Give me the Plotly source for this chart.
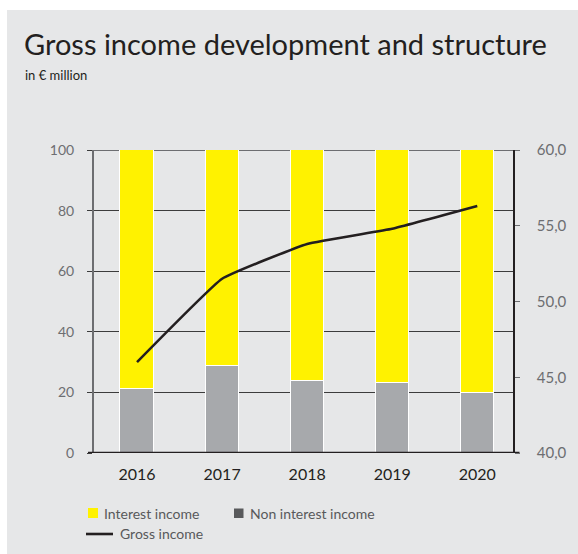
import plotly.graph_objects as go

# Data
years = ["2016", "2017", "2018", "2019", "2020"]
non_interest_share = [21.0, 28.8, 23.9, 23.0, 19.8]          # % of gross income
interest_share = [100 - v for v in non_interest_share]        # % of gross income
gross_income = [46.0, 51.5, 53.8, 54.8, 56.3]                 # € million
left_ticks = [0, 20, 40, 60, 80, 100]
right_ticks = [40, 45, 50, 55, 60]

YELLOW = "#fff200"
GREY_BAR = "#a7a9ac"
GREY_KEY = "#58595b"
BG = "#e6e7e8"
INK = "#231f20"
FONT = "Lato"

W, H = 578, 554
L, R, T, B = 94, 513, 150, 453  # plot area in pixels


def px(x):
    return (x - L) / (R - L)


def py(y):
    return (B - y) / (B - T)


fig = go.Figure()
fig.add_trace(go.Bar(
    x=years, y=non_interest_share, name="Non interest income",
    marker=dict(color=GREY_BAR, line=dict(color="white", width=1.2)),
    width=0.39, showlegend=False,
))
fig.add_trace(go.Bar(
    x=years, y=interest_share, name="Interest income",
    marker=dict(color=YELLOW, line=dict(color="white", width=1.2)),
    width=0.39, showlegend=False,
))
fig.add_trace(go.Scatter(
    x=years, y=gross_income, name="Gross income", yaxis="y2",
    mode="lines", line=dict(color=INK, width=2.6, shape="spline", smoothing=0.3),
    showlegend=False,
))

shapes = [
    # white frame strips around the grey panel
    dict(type="rect", xref="paper", yref="paper", x0=px(0), x1=px(W), y0=py(0), y1=py(10),
         fillcolor="white", line=dict(width=0), layer="above"),
    dict(type="rect", xref="paper", yref="paper", x0=px(0), x1=px(7), y0=py(H), y1=py(0),
         fillcolor="white", line=dict(width=0), layer="above"),
    # top line at 100 % and heavy base line
    dict(type="line", xref="paper", yref="y", x0=px(89), x1=px(518), y0=100, y1=100,
         line=dict(color="#6d6e71", width=2), layer="below"),
    dict(type="line", xref="paper", yref="y", x0=px(88), x1=px(519.5), y0=0, y1=0,
         line=dict(color=INK, width=2.6), layer="above"),
    # legend keys
    dict(type="rect", xref="paper", yref="paper", x0=px(88), x1=px(98), y0=py(518), y1=py(508),
         fillcolor=YELLOW, line=dict(width=0)),
    dict(type="rect", xref="paper", yref="paper", x0=px(234), x1=px(243.5), y0=py(518), y1=py(508.5),
         fillcolor=GREY_KEY, line=dict(width=0)),
    dict(type="line", xref="paper", yref="paper", x0=px(86), x1=px(113), y0=py(534), y1=py(534),
         line=dict(color=INK, width=2.6)),
]

annotations = [
    dict(text="Gross income development and structure", xref="paper", yref="paper",
         x=px(22), y=py(43), xanchor="left", yanchor="middle", showarrow=False,
         font=dict(family=FONT, size=29, color=INK)),
    dict(text="in € million", xref="paper", yref="paper",
         x=px(23), y=py(75), xanchor="left", yanchor="middle", showarrow=False,
         font=dict(family=FONT, size=13, color=INK)),
    dict(text="Interest income", xref="paper", yref="paper",
         x=px(102), y=py(513), xanchor="left", yanchor="middle", showarrow=False,
         font=dict(family=FONT, size=14, color="#58595b")),
    dict(text="Non interest income", xref="paper", yref="paper",
         x=px(248), y=py(513), xanchor="left", yanchor="middle", showarrow=False,
         font=dict(family=FONT, size=14, color="#58595b")),
    dict(text="Gross income", xref="paper", yref="paper",
         x=px(118), y=py(533), xanchor="left", yanchor="middle", showarrow=False,
         font=dict(family=FONT, size=14, color="#58595b")),
]

fig.update_layout(
    width=W, height=H,
    margin=dict(l=L, r=W - R, t=T, b=H - B, pad=0),
    paper_bgcolor=BG, plot_bgcolor=BG,
    barmode="stack", bargap=0,
    separators=", ",
    showlegend=False,
    font=dict(family=FONT, color=INK),
    xaxis=dict(
        type="category", range=[-0.506, 4.42], showgrid=False, zeroline=False,
        showline=False, ticks="", tickfont=dict(size=16, color=INK),
        ticklabelstandoff=10, fixedrange=True,
    ),
    yaxis=dict(
        range=[0, 100], tickvals=left_ticks, ticksuffix=" %",
        showgrid=True, gridcolor="#3c3c3c", gridwidth=1.3, zeroline=False,
        showline=True, linecolor="#6d6e71", linewidth=2,
        ticks="outside", ticklen=5, tickcolor="#3c3c3c", tickwidth=1.3,
        tickfont=dict(size=14, color="#6d6e71"), ticklabelstandoff=10,
    ),
    yaxis2=dict(
        range=[40, 60], tickvals=right_ticks, tickformat=".1f",
        overlaying="y", side="right", showgrid=False, zeroline=False,
        showline=True, linecolor=INK, linewidth=1.5,
        ticks="outside", ticklen=5, tickcolor="#6d6e71", tickwidth=1.3,
        tickfont=dict(size=15, color="#6d6e71"), ticklabelstandoff=14,
    ),
    shapes=shapes,
    annotations=annotations,
)

fig.write_html("out.html")
